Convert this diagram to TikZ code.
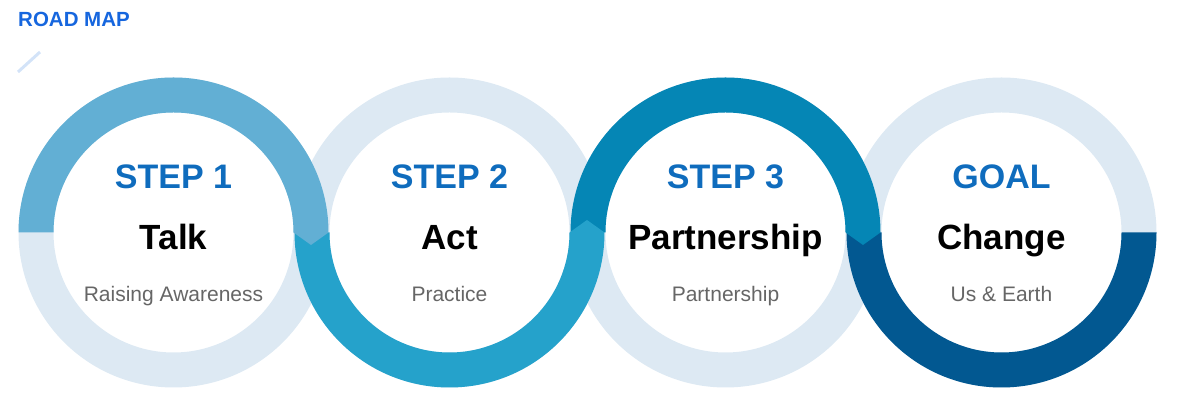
\documentclass[tikz,border=0pt]{standalone}
\usepackage{fontspec}
\setmainfont{Liberation Sans}
\definecolor{mapblue}{RGB}{22,102,222}
\definecolor{stepblue}{RGB}{15,108,189}
\definecolor{ringbg}{RGB}{221,233,243}
\definecolor{talkblue}{RGB}{98,175,212}
\definecolor{actblue}{RGB}{37,162,203}
\definecolor{partblue}{RGB}{5,134,181}
\definecolor{goalblue}{RGB}{2,88,145}
\definecolor{subgray}{RGB}{102,102,102}
\definecolor{tickblue}{RGB}{211,227,248}
\usepackage{tikz}

\begin{document}
\begin{tikzpicture}[x=1pt, y=1pt,
  steplbl/.style={anchor=base, inner sep=0pt, text=stepblue,
                  font=\fontsize{34}{40}\selectfont\bfseries},
  titlelbl/.style={anchor=base, inner sep=0pt, text=black,
                   font=\fontsize{35}{42}\selectfont\bfseries},
  sublbl/.style={anchor=base, inner sep=0pt, text=subgray,
                 font=\fontsize{21}{25}\selectfont},
  bgring/.style={fill=ringbg, even odd rule}
]
  \useasboundingbox (0,0) rectangle (1179,406);

  % Heading
  \node[anchor=base west, inner sep=0pt, text=mapblue,
        font=\fontsize{20.5}{24}\selectfont\bfseries] (roadmap) at (18,379) {ROAD MAP};
  \draw[tickblue, line width=3pt] (18,334) -- (40,354);

  % Pale rings
  \fill[bgring] (173.5,173.5) circle (155pt) (173.5,173.5) circle (120pt);
  \fill[bgring] (449.5,173.5) circle (155pt) (449.5,173.5) circle (120pt);
  \fill[bgring] (725.5,173.5) circle (155pt) (725.5,173.5) circle (120pt);
  \fill[bgring] (1001.5,173.5) circle (155pt) (1001.5,173.5) circle (120pt);

  % Coloured half rings (last one first, so each tip lies on the next)
  \fill[goalblue] (846.5,173.5) arc[start angle=180, end angle=360, radius=155pt]
    -- (1121.5,173.5) arc[start angle=360, end angle=180, radius=120pt] -- cycle;
  \fill[partblue] (570.5,173.5) arc[start angle=180, end angle=0, radius=155pt]
    -- (863,161) -- (845.5,173.5) arc[start angle=0, end angle=180, radius=120pt] -- cycle;
  \fill[actblue] (294.5,173.5) arc[start angle=180, end angle=360, radius=155pt]
    -- (587,186) -- (569.5,173.5) arc[start angle=360, end angle=180, radius=120pt] -- cycle;
  \fill[talkblue] (18.5,173.5) arc[start angle=180, end angle=0, radius=155pt]
    -- (311,161) -- (293.5,173.5) arc[start angle=0, end angle=180, radius=120pt] -- cycle;

  % Texts
  \node[steplbl] (step1) at (173.5,217.5) {STEP 1};
  \node[titlelbl] (talk) at (173.5,156) {Talk};
  \node[sublbl] (aware) at (173.5,104) {Raising Awareness};

  \node[steplbl] (step2) at (449.5,217.5) {STEP 2};
  \node[titlelbl] (act) at (449.5,156) {Act};
  \node[sublbl] (practice) at (449.5,104) {Practice};

  \node[steplbl] (step3) at (725.5,217.5) {STEP 3};
  \node[titlelbl] (partner) at (725.5,156) {Partnership};
  \node[sublbl] (partnersub) at (725.5,104) {Partnership};

  \node[steplbl] (goal) at (1001.5,217.5) {GOAL};
  \node[titlelbl] (change) at (1001.5,156) {Change};
  \node[sublbl] (earth) at (1001.5,104) {Us \& Earth};
\end{tikzpicture}
\end{document}
